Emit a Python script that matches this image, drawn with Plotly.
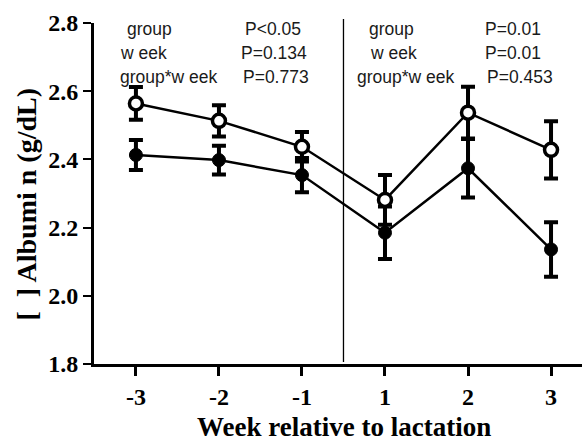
import plotly.graph_objects as go

weeks = ["-3", "-2", "-1", "1", "2", "3"]
open_mean = [2.564, 2.513, 2.437, 2.281, 2.537, 2.428]
open_sem = [0.048, 0.046, 0.043, 0.073, 0.076, 0.084]
filled_mean = [2.413, 2.398, 2.354, 2.185, 2.374, 2.136]
filled_sem = [0.044, 0.042, 0.050, 0.077, 0.086, 0.080]

y_ticks = [1.8, 2.0, 2.2, 2.4, 2.6, 2.8]
y_tick_labels = ["1.8", "2.0", "2.2", "2.4", "2.6", "2.8"]

stats_left = [("group", "P<0.05"), ("w eek", "P=0.134"), ("group*w eek", "P=0.773")]
stats_right = [("group", "P=0.01"), ("w eek", "P=0.01"), ("group*w eek", "P=0.453")]

W, H = 582, 442
L, R, T, B = 93.5, 0, 23, 78
pw, ph = W - L - R, H - T - B


def px_x(px):
    return (px - L) / pw


def px_y(py):
    return (H - B - py) / ph


fig = go.Figure()

fig.add_trace(go.Scatter(
    x=weeks, y=filled_mean, mode="lines+markers",
    line=dict(color="black", width=2.5),
    marker=dict(symbol="circle", size=13, color="black", line=dict(color="black", width=1)),
    error_y=dict(type="data", array=filled_sem, visible=True, color="black", thickness=4, width=7),
    showlegend=False,
))
fig.add_trace(go.Scatter(
    x=weeks, y=open_mean, mode="lines+markers",
    line=dict(color="black", width=2.5),
    marker=dict(symbol="circle", size=13, color="white", line=dict(color="black", width=3.5)),
    error_y=dict(type="data", array=open_sem, visible=True, color="black", thickness=4, width=7),
    showlegend=False,
))

# divider between pre- and post-lactation
fig.add_shape(type="line", xref="x", yref="paper", x0=2.5, x1=2.5, y0=0.006, y1=1.012,
              line=dict(color="black", width=1.3))

sans = dict(family="Liberation Sans, Arial", size=17.5, color="#1a1a1a")
row_y = [2.782, 2.712, 2.642]
left_lab_x = [-0.127, -0.21, -0.22]
left_p_x = [1.29, 1.245, 1.27]
right_lab_x = [2.786, 2.80, 2.64]
right_p_x = [4.18, 4.18, 4.206]
for i, (lab, p) in enumerate(stats_left):
    fig.add_annotation(x=left_lab_x[i], y=row_y[i], xref="x", yref="y", text=lab, showarrow=False,
                       xanchor="left", yanchor="middle", font=sans)
    fig.add_annotation(x=left_p_x[i], y=row_y[i], xref="x", yref="y", text=p, showarrow=False,
                       xanchor="left", yanchor="middle", font=sans)
for i, (lab, p) in enumerate(stats_right):
    fig.add_annotation(x=right_lab_x[i], y=row_y[i], xref="x", yref="y", text=lab, showarrow=False,
                       xanchor="left", yanchor="middle", font=sans)
    fig.add_annotation(x=right_p_x[i], y=row_y[i], xref="x", yref="y", text=p, showarrow=False,
                       xanchor="left", yanchor="middle", font=sans)

fig.add_annotation(x=px_x(344), y=px_y(427), xref="paper", yref="paper",
                   xanchor="center", yanchor="middle", text="Week relative to lactation",
                   showarrow=False,
                   font=dict(family="Liberation Serif, Times New Roman", size=27, color="black", weight="bold"))
fig.add_annotation(x=px_x(25), y=px_y(204), xref="paper", yref="paper",
                   xanchor="center", yanchor="middle", text="[\u00a0\u00a0] Albumi n (g/dL)",
                   showarrow=False, textangle=-90,
                   font=dict(family="Liberation Serif, Times New Roman", size=28, color="black", weight="bold"))

tickfont = dict(family="Liberation Serif, Times New Roman", size=24, color="black", weight="bold")
fig.update_layout(
    width=W, height=H,
    margin=dict(l=L, r=R, t=T, b=B, pad=0),
    paper_bgcolor="white", plot_bgcolor="white",
    xaxis=dict(type="category", range=[-0.505, 5.373], showgrid=False, zeroline=False,
               showline=True, linecolor="black", linewidth=3,
               ticks="outside", ticklen=9, tickwidth=2.5, tickcolor="black", tickfont=tickfont),
    yaxis=dict(range=[1.8, 2.8], tickvals=y_ticks, ticktext=y_tick_labels, showgrid=False, zeroline=False,
               showline=True, linecolor="black", linewidth=3,
               ticks="outside", ticklen=8, tickwidth=2, tickcolor="black", tickfont=tickfont),
)

fig.write_html("out.html", config={"displayModeBar": False},
               post_script="document.body.style.margin='0';")
